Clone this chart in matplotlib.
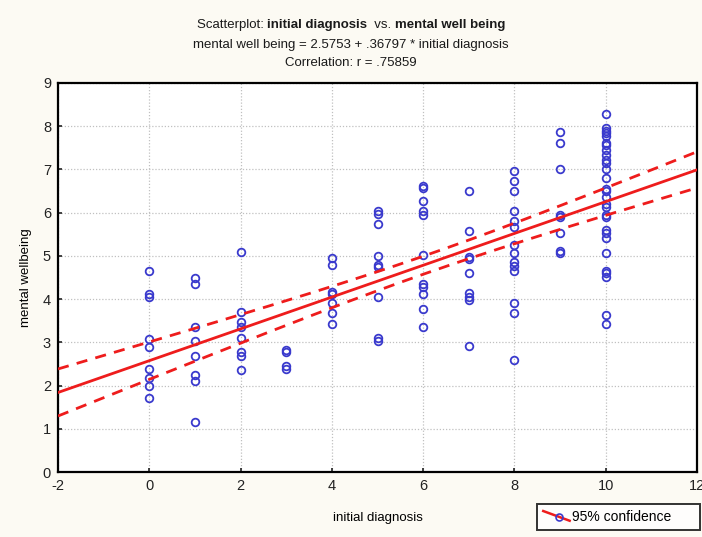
import numpy as np
import matplotlib
matplotlib.use('Agg')
import matplotlib.pyplot as plt
from matplotlib.lines import Line2D
from matplotlib.legend_handler import HandlerLine2D

plt.rcParams['font.family'] = ['Liberation Sans', 'DejaVu Sans']
plt.rcParams['axes.unicode_minus'] = False

# values, one list per diagnosis score
x_levels = [0, 1, 2, 3, 4, 5, 6, 7, 8, 9, 10]
wellbeing = [
    [4.64, 4.11, 4.04, 3.08, 2.90, 2.38, 2.17, 1.98, 1.71],
    [4.48, 4.34, 3.36, 3.04, 2.69, 2.24, 2.11, 1.15],
    [5.08, 3.71, 3.46, 3.36, 3.09, 2.77, 2.69, 2.36],
    [2.82, 2.77, 2.45, 2.38],
    [4.95, 4.79, 4.17, 4.12, 3.90, 3.69, 3.43],
    [6.03, 5.96, 5.73, 5.00, 4.79, 4.74, 4.04, 3.09, 3.04],
    [6.62, 6.58, 6.27, 6.04, 5.95, 5.01, 4.35, 4.29, 4.12, 3.77, 3.36],
    [6.49, 5.58, 4.97, 4.92, 4.60, 4.14, 4.06, 3.98, 2.92],
    [6.97, 6.74, 6.49, 6.03, 5.81, 5.66, 5.25, 5.06, 4.87, 4.77, 4.66, 3.90, 3.69, 2.58],
    [7.86, 7.61, 7.01, 5.95, 5.90, 5.54, 5.12, 5.06],
    [8.29, 7.97, 7.90, 7.84, 7.78, 7.62, 7.57, 7.45, 7.34, 7.21, 7.15, 7.01, 6.80,
     6.54, 6.49, 6.37, 6.20, 6.13, 5.95, 5.90, 5.60, 5.53, 5.41, 5.06, 4.66, 4.60,
     4.52, 3.63, 3.43],
]
intercept = 2.5753
slope = 0.36797

xs = np.concatenate([[xv] * len(v) for xv, v in zip(x_levels, wellbeing)])
ys = np.concatenate(wellbeing)

# 95% confidence band of the fitted mean
n = len(xs)
resid = ys - (intercept + slope * xs)
s = np.sqrt(np.sum(resid ** 2) / (n - 2))
sxx = np.sum((xs - xs.mean()) ** 2)
xgrid = np.linspace(-2, 12, 200)
fit = intercept + slope * xgrid
half = 1.96 * s * np.sqrt(1 / n + (xgrid - xs.mean()) ** 2 / sxx)

fig = plt.figure(figsize=(7.02, 5.37), dpi=100)
fig.patch.set_facecolor('#fcfaf3')
ax = fig.add_axes([58 / 702, 1 - 472 / 537, 639 / 702, 389 / 537])
ax.set_facecolor('white')

blue = '#3a3acd'
red = '#ee1c1c'
ax.plot(xs, ys, 'o', mfc='none', mec=blue, mew=1.3, ms=5.5, zorder=3)
ax.plot(xgrid, fit, color=red, lw=2, zorder=4)
ax.plot(xgrid, fit + half, color=red, lw=2, dashes=(4, 3), zorder=4)
ax.plot(xgrid, fit - half, color=red, lw=2, dashes=(4, 3), zorder=4)

ax.set_xlim(-2, 12)
ax.set_ylim(0, 9)
ax.set_xticks(range(-2, 13, 2))
ax.set_yticks(range(0, 10))
ax.grid(True, color='#c0c0c0', ls=(0, (1, 1.5)), lw=0.9)
ax.tick_params(direction='in', length=3, width=1.2, labelsize=10.5, colors='#222222', pad=5)
for sp in ax.spines.values():
    sp.set_linewidth(1.6)

ax.set_xlabel('initial diagnosis', fontsize=9.5, labelpad=14)
ax.set_ylabel('mental wellbeing', fontsize=9.5, labelpad=8)

# first title line in pieces, normal and bold
pieces = [('Scatterplot: ', 'normal'), ('initial diagnosis', 'bold'),
          ('  vs. ', 'normal'), ('mental well being', 'bold')]
renderer = fig.canvas.get_renderer()
widths = []
for txt, wt in pieces:
    t = fig.text(0, 0, txt, fontsize=9.5, fontweight=wt)
    widths.append(t.get_window_extent(renderer).width)
    t.remove()
x0 = (702 - sum(widths)) / 2
for (txt, wt), w in zip(pieces, widths):
    fig.text(x0 / 702, 1 - 25 / 537, txt, fontsize=9.5, fontweight=wt,
             ha='left', va='center', color='#1a1a1a')
    x0 += w
fig.text(0.5, 1 - 45.5 / 537, 'mental well being = 2.5753 + .36797 * initial diagnosis',
         ha='center', va='center', fontsize=9.5, color='#1a1a1a')
fig.text(0.5, 1 - 63 / 537, 'Correlation: r = .75859',
         ha='center', va='center', fontsize=9.5, color='#1a1a1a')


class DiagHandler(HandlerLine2D):
    def create_artists(self, legend, orig_handle, xdescent, ydescent, width, height, fontsize, trans):
        x1 = width - xdescent
        line = Line2D([-xdescent, x1], [height - ydescent, -ydescent],
                      color=red, lw=1.8, transform=trans)
        mark = Line2D([(x1 - xdescent) / 2 + 2], [(height - ydescent) / 2 - 1], marker='o',
                      mfc='none', mec=blue, mew=1.2, ms=5, ls='none', transform=trans)
        return [line, mark]


handle = Line2D([], [], color=red)
leg = fig.legend([handle], ['95% confidence'], loc='lower left', mode='expand',
                 bbox_to_anchor=(537 / 702, 7 / 537, 163 / 702, 27 / 537), fontsize=10,
                 frameon=True, fancybox=False, edgecolor='black', handlelength=1.9,
                 handletextpad=0.2, borderpad=0.45, borderaxespad=0,
                 handler_map={Line2D: DiagHandler()})
leg.get_frame().set_linewidth(1.4)
leg.get_frame().set_facecolor('white')

fig.savefig('out.png', dpi=100, facecolor=fig.get_facecolor())
